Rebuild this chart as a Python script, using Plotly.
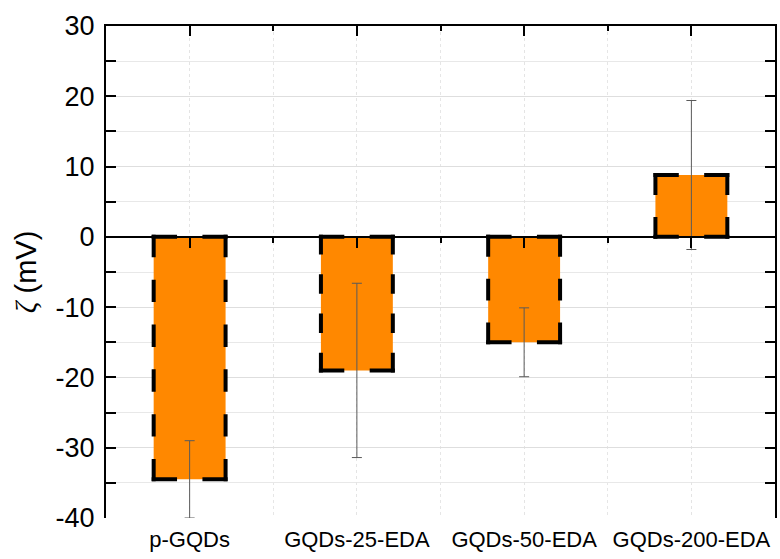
import plotly.graph_objects as go

# Zeta potential of the quantum-dot samples
samples = ["p-GQDs", "GQDs-25-EDA", "GQDs-50-EDA", "GQDs-200-EDA"]
zeta_mv = [-34.5, -19.0, -15.0, 8.8]
zeta_err = [5.5, 12.4, 4.9, 10.6]

y_ticks = [-40, -30, -20, -10, 0, 10, 20, 30]
y_tick_text = [str(v) for v in y_ticks]

# figure geometry
W, H = 780, 559
M = dict(l=106, r=3, t=26, b=41)
X_RANGE = [-0.5, 3.5]
Y_RANGE = [-40, 30]
BAR_W = 0.43
EDGE_W = 4

px_per_x = (W - M["l"] - M["r"]) / (X_RANGE[1] - X_RANGE[0])
px_per_y = (H - M["t"] - M["b"]) / (Y_RANGE[1] - Y_RANGE[0])

xs = list(range(len(samples)))

fig = go.Figure()

fig.add_trace(go.Bar(
    x=xs, y=zeta_mv, width=BAR_W,
    marker=dict(color="#FF8800", line=dict(width=0)),
    error_y=dict(type="data", array=zeta_err, visible=True,
                 color="#5a5a5a", thickness=1, width=5),
    showlegend=False, hoverinfo="skip",
))


def dash_for(length_px, target=22):
    """Dash pattern that starts and ends each edge with a dash."""
    n = max(2, round((length_px + target) / (2 * target)))
    d = length_px / (2 * n - 1)
    return f"{d:.2f}px,{d:.2f}px"


def add_edges(px_list, py_list, length_px):
    fig.add_trace(go.Scatter(
        x=px_list, y=py_list, mode="lines", xaxis="x2",
        line=dict(color="black", width=EDGE_W, dash=dash_for(length_px)),
        showlegend=False, hoverinfo="skip", connectgaps=False,
    ))


ex = (EDGE_W / 2) / px_per_x
ey = (EDGE_W / 2) / px_per_y

# horizontal edges of every bar (top and bottom)
hx, hy = [], []
for i, v in zip(xs, zeta_mv):
    x0, x1 = i - BAR_W / 2, i + BAR_W / 2
    for yy in (0, v):
        hx += [x0 - ex, x1 + ex, None]
        hy += [yy, yy, None]
add_edges(hx, hy, BAR_W * px_per_x + EDGE_W)

# vertical edges, one trace per bar since heights differ
for i, v in zip(xs, zeta_mv):
    x0, x1 = i - BAR_W / 2, i + BAR_W / 2
    s = 1 if v > 0 else -1
    vx, vy = [], []
    for xx in (x0, x1):
        vx += [xx, xx, None]
        vy += [-s * ey, v + s * ey, None]
    add_edges(vx, vy, abs(v) * px_per_y + EDGE_W)

# dummy point so the top frame axis is drawn
fig.add_trace(go.Scatter(x=[None], y=[None], xaxis="x3", showlegend=False,
                         hoverinfo="skip"))

tick_font = dict(family="Liberation Sans, Arial, sans-serif", color="black")

fig.update_layout(
    width=W, height=H, margin=M,
    paper_bgcolor="white", plot_bgcolor="white",
    xaxis=dict(
        range=X_RANGE, tickmode="array", tickvals=xs, ticktext=samples,
        tickfont=dict(size=22, **tick_font), ticks="", showline=False,
        showgrid=True, gridcolor="#e4e4e4", gridwidth=1, griddash="dot",
        zeroline=False, ticklabelstandoff=6,
        minor=dict(tickvals=[0.5, 1.5, 2.5], showgrid=True,
                   gridcolor="#e6e6e6", gridwidth=1, ticks=""),
    ),
    # axis line through y = 0 with its ticks
    xaxis2=dict(
        range=X_RANGE, overlaying="x", anchor="free",
        position=(0 - Y_RANGE[0]) / (Y_RANGE[1] - Y_RANGE[0]),
        side="bottom", showline=True, linecolor="black", linewidth=2,
        tickmode="array", tickvals=xs, ticks="outside", ticklen=10,
        tickwidth=2, tickcolor="black", showticklabels=False,
        showgrid=False, zeroline=False,
        minor=dict(tickvals=[0.5, 1.5, 2.5], ticks="outside", ticklen=5,
                   tickwidth=2, tickcolor="black", showgrid=False),
    ),
    # top frame
    xaxis3=dict(
        range=X_RANGE, overlaying="x", anchor="y", side="top",
        showline=True, linecolor="black", linewidth=2,
        tickmode="array", tickvals=xs, ticks="inside", ticklen=10,
        tickwidth=2, tickcolor="black", showticklabels=False,
        showgrid=False, zeroline=False,
        minor=dict(tickvals=[0.5, 1.5, 2.5], ticks="inside", ticklen=5,
                   tickwidth=2, tickcolor="black", showgrid=False),
    ),
    yaxis=dict(
        range=Y_RANGE, tickmode="array", tickvals=y_ticks,
        ticktext=y_tick_text,
        tickfont=dict(size=27, **tick_font),
        showline=True, linecolor="black", linewidth=2, mirror="allticks",
        ticks="inside", ticklen=10, tickwidth=2, tickcolor="black",
        showgrid=True, gridcolor="#dedede", gridwidth=1, zeroline=False,
        ticklabelstandoff=4,
        minor=dict(dtick=5, tick0=0, ticks="inside", ticklen=5, tickwidth=2,
                   tickcolor="black", showgrid=True, gridcolor="#e8e8e8",
                   gridwidth=1),
        title=dict(
            text="<span style=\"font-family:'Liberation Serif'\"><i>ζ</i></span> (mV)",
            font=dict(size=29, **tick_font), standoff=10),
    ),
)

fig.write_html("out.html")
